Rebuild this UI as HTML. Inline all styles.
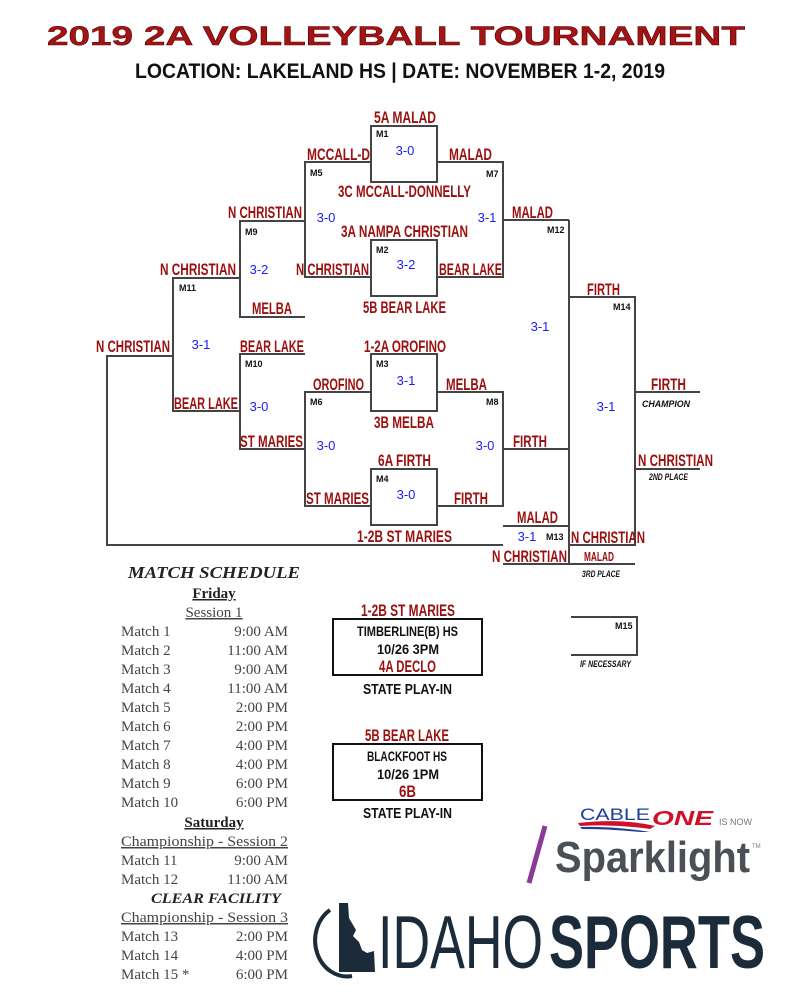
<!DOCTYPE html>
<html><head><meta charset="utf-8"><style>
html,body{margin:0;padding:0;background:#fff;width:800px;height:1000px;overflow:hidden}
svg{display:block}
.t{font-family:"Liberation Sans Narrow","Liberation Sans",sans-serif;font-weight:bold;fill:#9b0f0f;font-size:17px}
.s{font-family:"Liberation Sans Narrow","Liberation Sans",sans-serif;fill:#1a1aff;font-size:13px;text-anchor:middle}
.m{font-family:"Liberation Sans Narrow","Liberation Sans",sans-serif;font-weight:bold;fill:#111;font-size:9px}
.p{font-family:"Liberation Sans Narrow","Liberation Sans",sans-serif;font-weight:bold;font-style:italic;fill:#111;font-size:9px}
.k{font-family:"Liberation Sans Narrow","Liberation Sans",sans-serif;font-weight:bold;fill:#111;font-size:15px}
.r{font-family:"Liberation Serif",serif;fill:#444;font-size:15px}
.rb{font-family:"Liberation Serif",serif;fill:#222;font-size:15px;font-weight:bold}
</style></head><body>
<svg width="800" height="1000" viewBox="0 0 800 1000" xmlns="http://www.w3.org/2000/svg">
<text x="47" y="45" textLength="698" lengthAdjust="spacingAndGlyphs" style="font-family:'Liberation Sans',sans-serif;font-weight:bold;font-size:27px;fill:#a31414;stroke:#5a0000;stroke-width:0.5">2019  2A  VOLLEYBALL  TOURNAMENT</text>
<text x="135" y="78" textLength="530" lengthAdjust="spacingAndGlyphs" class="k" style="font-size:21px">LOCATION: LAKELAND HS  |  DATE: NOVEMBER 1-2, 2019</text>

<g stroke="#444" stroke-width="2" fill="none">
<rect x="371" y="126" width="66" height="56"/>
<rect x="371" y="240" width="66" height="56"/>
<rect x="371" y="354" width="66" height="57"/>
<rect x="371" y="469" width="66" height="56"/>
<path d="M371 162H305V277H371"/>
<path d="M437 162H503V277H437"/>
<path d="M503 220H569"/>
<path d="M305 221H240V317H305"/>
<path d="M240 278H173V411H240"/>
<path d="M305 354H240V449H305"/>
<path d="M371 392H305V506H371"/>
<path d="M437 392H503V506H437"/>
<path d="M503 449H569"/>
<path d="M173 356H107V545H503"/>
<path d="M569 220V565"/>
<path d="M569 297H635V545H569"/>
<path d="M635 392H700M635 469H700"/>
<path d="M503 526H569M503 564H635"/>
<path d="M571 617H637V655H571"/>
</g>

<text class="t" x="374" y="123" textLength="62" lengthAdjust="spacingAndGlyphs">5A MALAD</text>
<text class="t" x="307" y="160" textLength="63" lengthAdjust="spacingAndGlyphs">MCCALL-D</text>
<text class="t" x="449" y="160" textLength="43" lengthAdjust="spacingAndGlyphs">MALAD</text>
<text class="t" x="338" y="197" textLength="133" lengthAdjust="spacingAndGlyphs">3C MCCALL-DONNELLY</text>
<text class="t" x="341" y="237" textLength="127" lengthAdjust="spacingAndGlyphs">3A NAMPA CHRISTIAN</text>
<text class="t" x="228" y="218" textLength="74" lengthAdjust="spacingAndGlyphs">N CHRISTIAN</text>
<text class="t" x="512" y="218" textLength="41" lengthAdjust="spacingAndGlyphs">MALAD</text>
<text class="t" x="296" y="275" textLength="73" lengthAdjust="spacingAndGlyphs">N CHRISTIAN</text>
<text class="t" x="439" y="275" textLength="63" lengthAdjust="spacingAndGlyphs">BEAR LAKE</text>
<text class="t" x="160" y="275" textLength="76" lengthAdjust="spacingAndGlyphs">N CHRISTIAN</text>
<text class="t" x="252" y="314" textLength="40" lengthAdjust="spacingAndGlyphs">MELBA</text>
<text class="t" x="363" y="313" textLength="83" lengthAdjust="spacingAndGlyphs">5B BEAR LAKE</text>
<text class="t" x="587" y="295" textLength="33" lengthAdjust="spacingAndGlyphs">FIRTH</text>
<text class="t" x="96" y="352" textLength="74" lengthAdjust="spacingAndGlyphs">N CHRISTIAN</text>
<text class="t" x="240" y="352" textLength="64" lengthAdjust="spacingAndGlyphs">BEAR LAKE</text>
<text class="t" x="364" y="352" textLength="82" lengthAdjust="spacingAndGlyphs">1-2A OROFINO</text>
<text class="t" x="313" y="390" textLength="51" lengthAdjust="spacingAndGlyphs">OROFINO</text>
<text class="t" x="446" y="390" textLength="41" lengthAdjust="spacingAndGlyphs">MELBA</text>
<text class="t" x="651" y="390" textLength="35" lengthAdjust="spacingAndGlyphs">FIRTH</text>
<text class="p" x="642" y="407" textLength="48" lengthAdjust="spacingAndGlyphs">CHAMPION</text>
<text class="t" x="174" y="409" textLength="64" lengthAdjust="spacingAndGlyphs">BEAR LAKE</text>
<text class="t" x="374" y="428" textLength="60" lengthAdjust="spacingAndGlyphs">3B MELBA</text>
<text class="t" x="240" y="447" textLength="63" lengthAdjust="spacingAndGlyphs">ST MARIES</text>
<text class="t" x="513" y="447" textLength="34" lengthAdjust="spacingAndGlyphs">FIRTH</text>
<text class="t" x="378" y="466" textLength="53" lengthAdjust="spacingAndGlyphs">6A FIRTH</text>
<text class="t" x="638" y="466" textLength="75" lengthAdjust="spacingAndGlyphs">N CHRISTIAN</text>
<text class="p" x="649" y="480" textLength="39" lengthAdjust="spacingAndGlyphs">2ND PLACE</text>
<text class="t" x="306" y="504" textLength="63" lengthAdjust="spacingAndGlyphs">ST MARIES</text>
<text class="t" x="454" y="504" textLength="34" lengthAdjust="spacingAndGlyphs">FIRTH</text>
<text class="t" x="517" y="523" textLength="41" lengthAdjust="spacingAndGlyphs">MALAD</text>
<text class="t" x="357" y="542" textLength="95" lengthAdjust="spacingAndGlyphs">1-2B ST MARIES</text>
<text class="t" x="571" y="543" textLength="74" lengthAdjust="spacingAndGlyphs">N CHRISTIAN</text>
<text class="t" x="492" y="562" textLength="75" lengthAdjust="spacingAndGlyphs">N CHRISTIAN</text>
<text class="t" x="584" y="561" textLength="30" lengthAdjust="spacingAndGlyphs" style="font-size:13px">MALAD</text>
<text class="p" x="582" y="577" textLength="38" lengthAdjust="spacingAndGlyphs">3RD PLACE</text>
<text class="p" x="580" y="667" textLength="51" lengthAdjust="spacingAndGlyphs">IF NECESSARY</text>

<text class="s" x="405" y="155">3-0</text>
<text class="s" x="326" y="222">3-0</text>
<text class="s" x="487" y="222">3-1</text>
<text class="s" x="259" y="274">3-2</text>
<text class="s" x="406" y="269">3-2</text>
<text class="s" x="540" y="331">3-1</text>
<text class="s" x="201" y="349">3-1</text>
<text class="s" x="406" y="385">3-1</text>
<text class="s" x="259" y="411">3-0</text>
<text class="s" x="606" y="411">3-1</text>
<text class="s" x="326" y="450">3-0</text>
<text class="s" x="485" y="450">3-0</text>
<text class="s" x="406" y="499">3-0</text>
<text class="s" x="527" y="541">3-1</text>

<text class="m" x="376" y="137">M1</text>
<text class="m" x="310" y="176">M5</text>
<text class="m" x="486" y="177">M7</text>
<text class="m" x="245" y="235">M9</text>
<text class="m" x="547" y="233">M12</text>
<text class="m" x="376" y="253">M2</text>
<text class="m" x="179" y="291">M11</text>
<text class="m" x="613" y="310">M14</text>
<text class="m" x="245" y="367">M10</text>
<text class="m" x="376" y="367">M3</text>
<text class="m" x="310" y="405">M6</text>
<text class="m" x="486" y="405">M8</text>
<text class="m" x="376" y="482">M4</text>
<text class="m" x="546" y="540">M13</text>
<text class="m" x="615" y="629">M15</text>

<text x="128" y="578" textLength="172" lengthAdjust="spacingAndGlyphs" style="font-family:'Liberation Serif',serif;font-weight:bold;font-style:italic;font-size:17px;fill:#222">MATCH SCHEDULE</text>
<text class="rb" x="214" y="598" text-anchor="middle" text-decoration="underline">Friday</text>
<text class="r" x="214" y="617" text-anchor="middle" text-decoration="underline">Session 1</text>
<g class="r">
<text x="121" y="636">Match 1</text><text x="288" y="636" text-anchor="end">9:00 AM</text>
<text x="121" y="655">Match 2</text><text x="288" y="655" text-anchor="end">11:00 AM</text>
<text x="121" y="674">Match 3</text><text x="288" y="674" text-anchor="end">9:00 AM</text>
<text x="121" y="693">Match 4</text><text x="288" y="693" text-anchor="end">11:00 AM</text>
<text x="121" y="712">Match 5</text><text x="288" y="712" text-anchor="end">2:00 PM</text>
<text x="121" y="731">Match 6</text><text x="288" y="731" text-anchor="end">2:00 PM</text>
<text x="121" y="750">Match 7</text><text x="288" y="750" text-anchor="end">4:00 PM</text>
<text x="121" y="769">Match 8</text><text x="288" y="769" text-anchor="end">4:00 PM</text>
<text x="121" y="788">Match 9</text><text x="288" y="788" text-anchor="end">6:00 PM</text>
<text x="121" y="807">Match 10</text><text x="288" y="807" text-anchor="end">6:00 PM</text>
</g>
<text class="rb" x="214" y="827" text-anchor="middle" text-decoration="underline">Saturday</text>
<text class="r" x="121" y="846" textLength="167" lengthAdjust="spacingAndGlyphs" text-decoration="underline">Championship - Session 2</text>
<g class="r">
<text x="121" y="865">Match 11</text><text x="288" y="865" text-anchor="end">9:00 AM</text>
<text x="121" y="884">Match 12</text><text x="288" y="884" text-anchor="end">11:00 AM</text>
</g>
<text x="151" y="903" textLength="130" lengthAdjust="spacingAndGlyphs" style="font-family:'Liberation Serif',serif;font-weight:bold;font-style:italic;font-size:15px;fill:#222">CLEAR FACILITY</text>
<text class="r" x="121" y="922" textLength="167" lengthAdjust="spacingAndGlyphs" text-decoration="underline">Championship - Session 3</text>
<g class="r">
<text x="121" y="941">Match 13</text><text x="288" y="941" text-anchor="end">2:00 PM</text>
<text x="121" y="960">Match 14</text><text x="288" y="960" text-anchor="end">4:00 PM</text>
<text x="121" y="979">Match 15 *</text><text x="288" y="979" text-anchor="end">6:00 PM</text>
</g>

<text class="t" x="361" y="616" textLength="94" lengthAdjust="spacingAndGlyphs">1-2B ST MARIES</text>
<rect x="333" y="619" width="149" height="56" fill="none" stroke="#111" stroke-width="2"/>
<text class="k" x="357" y="636" textLength="101" lengthAdjust="spacingAndGlyphs" style="font-size:14px">TIMBERLINE(B) HS</text>
<text class="k" x="377" y="654" textLength="62" lengthAdjust="spacingAndGlyphs" style="font-size:14px">10/26 3PM</text>
<text class="t" x="379" y="672" textLength="57" lengthAdjust="spacingAndGlyphs">4A DECLO</text>
<text class="k" x="363" y="694" textLength="89" lengthAdjust="spacingAndGlyphs">STATE PLAY-IN</text>

<text class="t" x="365" y="741" textLength="84" lengthAdjust="spacingAndGlyphs">5B BEAR LAKE</text>
<rect x="333" y="744" width="149" height="56" fill="none" stroke="#111" stroke-width="2"/>
<text class="k" x="367" y="761" textLength="80" lengthAdjust="spacingAndGlyphs" style="font-size:14px">BLACKFOOT HS</text>
<text class="k" x="377" y="779" textLength="62" lengthAdjust="spacingAndGlyphs" style="font-size:14px">10/26 1PM</text>
<text class="t" x="399" y="797" textLength="17" lengthAdjust="spacingAndGlyphs">6B</text>
<text class="k" x="363" y="818" textLength="89" lengthAdjust="spacingAndGlyphs">STATE PLAY-IN</text>

<text x="580" y="820" textLength="70" lengthAdjust="spacingAndGlyphs" style="font-family:'Liberation Sans',sans-serif;font-size:17px;fill:#1d3f9a">CABLE</text>
<path d="M578 823 Q620 818 655 826 L650 829 Q615 824 580 826Z" fill="#d0102a"/>
<path d="M580 827 Q615 826 650 832 L640 832 Q610 829 582 829Z" fill="#1d3f9a"/>
<text x="652" y="825" textLength="61" lengthAdjust="spacingAndGlyphs" style="font-family:'Liberation Sans',sans-serif;font-weight:bold;font-style:italic;font-size:20px;fill:#d0102a">ONE</text>
<text x="719" y="825" textLength="33" lengthAdjust="spacingAndGlyphs" style="font-family:'Liberation Sans',sans-serif;font-size:9px;fill:#777">IS NOW</text>
<line x1="529" y1="883" x2="545" y2="826" stroke="#8c3a98" stroke-width="5"/>
<text x="555" y="872" textLength="195" lengthAdjust="spacingAndGlyphs" style="font-family:'Liberation Sans',sans-serif;font-weight:bold;font-size:44px;fill:#4a5055">Sparklight</text>
<text x="752" y="848" style="font-family:'Liberation Sans',sans-serif;font-size:6px;fill:#777">TM</text>

<path d="M330 910 A32 36 0 0 0 352 976" fill="none" stroke="#1c2b3a" stroke-width="4"/>
<path d="M336 908 L362 912 A32 36 0 0 1 376 928 L368 935 A32 36 0 0 1 370 960" fill="none" stroke="#1c2b3a" stroke-width="0"/>
<path d="M339 903 L348 903 L349 918 L356 930 L353 936 L359 942 L362 950 L367 953 L374 951 L375 972 L339 972 Z" fill="#1c2b3a"/>
<text x="378" y="968" textLength="165" lengthAdjust="spacingAndGlyphs" style="font-family:'Liberation Sans Narrow','Liberation Sans',sans-serif;font-size:75px;fill:#1c2b3a">IDAHO</text>
<text x="549" y="968" textLength="216" lengthAdjust="spacingAndGlyphs" style="font-family:'Liberation Sans Narrow','Liberation Sans',sans-serif;font-weight:bold;font-size:75px;fill:#1c2b3a">SPORTS</text>
</svg>
</body></html>
